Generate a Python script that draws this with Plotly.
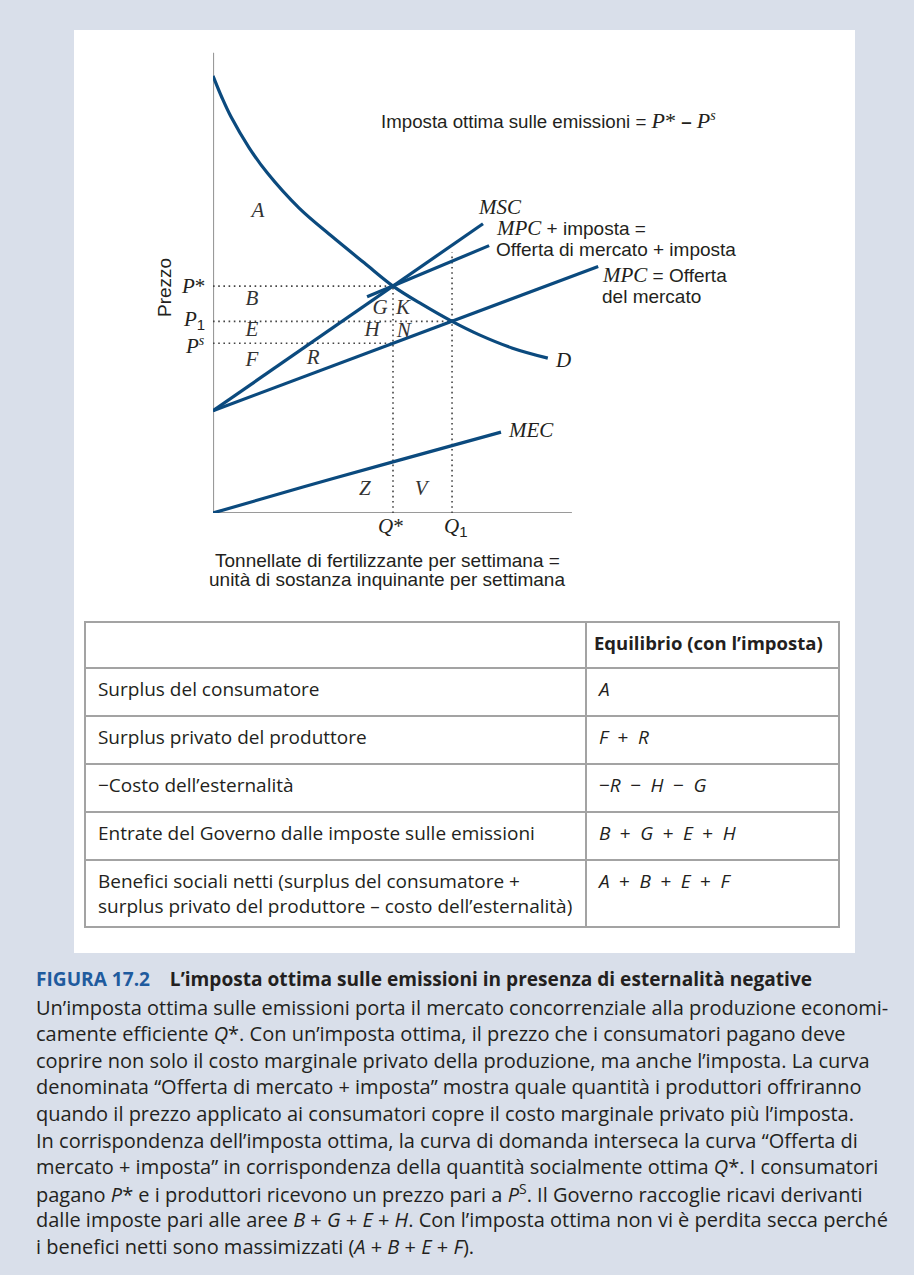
import plotly.graph_objects as go

W, H = 914, 1275

# ---------------- data (chart units) ----------------
demand_q = [0, 0.25, 0.5, 1.0, 1.5, 2.4, 3.3, 4.2, 5.0, 5.8, 6.64, 7.4, 8.3, 9.3]
demand_p = [9.4, 8.93, 8.52, 7.86, 7.32, 6.55, 5.95, 5.38, 4.88, 4.49, 4.12, 3.83, 3.55, 3.33]

mpc_q = [0, 10.7]
mpc_p = [2.2, 5.3]

msc_q = [0, 7.5]
msc_p = [2.2, 6.22]

mpc_tax_q = [4.28, 7.67]
mpc_tax_p = [4.65, 5.75]

mec_q = [0, 2.5, 5.0, 8.0]
mec_p = [0, 0.56, 1.1, 1.74]

q_star, q_one = 5.0, 6.64
p_star, p_one, p_s = 4.88, 4.12, 3.65
q_one_top = 5.6

area_labels = ["A", "B", "E", "F", "R", "G", "K", "H", "N", "Z", "V"]
area_q = [1.25, 1.08, 1.08, 1.08, 2.78, 4.64, 5.28, 4.42, 5.3, 4.22, 5.78]
area_p = [6.47, 4.58, 3.91, 3.27, 3.31, 4.39, 4.39, 3.91, 3.89, 0.49, 0.49]

table_header = ["", "<b>Equilibrio (con l’imposta)</b>"]
table_rows = [
    "Surplus del consumatore",
    "Surplus privato del produttore",
    "−Costo dell’esternalità",
    "Entrate del Governo dalle imposte sulle emissioni",
    "Benefici sociali netti (surplus del consumatore +<br>surplus privato del produttore – costo dell’esternalità)",
]
SP = "\u2002"
table_values = [
    "<i>A</i>",
    f"<i>F</i>{SP}+{SP}<i>R</i>",
    f"−<i>R</i>{SP}−{SP}<i>H</i>{SP}−{SP}<i>G</i>",
    f"<i>B</i>{SP}+{SP}<i>G</i>{SP}+{SP}<i>E</i>{SP}+{SP}<i>H</i>",
    f"<i>A</i>{SP}+{SP}<i>B</i>{SP}+{SP}<i>E</i>{SP}+{SP}<i>F</i>",
]

caption_title = ("<span style='color:#1f5b9e'>FIGURA 17.2</span>&nbsp;&nbsp;&nbsp;&nbsp;"
                 "L’imposta ottima sulle emissioni in presenza di esternalità negative")
caption_lines = [
    "Un’imposta ottima sulle emissioni porta il mercato concorrenziale alla produzione economi-",
    "camente efficiente <i>Q</i>*. Con un’imposta ottima, il prezzo che i consumatori pagano deve",
    "coprire non solo il costo marginale privato della produzione, ma anche l’imposta. La curva",
    "denominata “Offerta di mercato + imposta” mostra quale quantità i produttori offriranno",
    "quando il prezzo applicato ai consumatori copre il costo marginale privato più l’imposta.",
    "In corrispondenza dell’imposta ottima, la curva di domanda interseca la curva “Offerta di",
    "mercato + imposta” in corrispondenza della quantità socialmente ottima <i>Q</i>*. I consumatori",
    "pagano <i>P</i>* e i produttori ricevono un prezzo pari a <i>P</i><sup>S</sup>. Il Governo raccoglie ricavi derivanti",
    "dalle imposte pari alle aree <i>B</i> + <i>G</i> + <i>E</i> + <i>H</i>. Con l’imposta ottima non vi è perdita secca perché",
    "i benefici netti sono massimizzati (<i>A</i> + <i>B</i> + <i>E</i> + <i>F</i>).",
]

# ---------------- styling ----------------
BLUE = "#0b4a7e"
DOT = "#444444"
SERIF = "Liberation Serif"
SANS = "Liberation Sans"
BOOK = "Open Sans"
TXT = "#231f20"
SER_SIZE = 21
SANS_SIZE = 19


def px(x):
    return x / W


def py(y):
    return 1 - y / H


def serif_i(s, size=SER_SIZE):
    return f"<span style='font-family:{SERIF};font-size:{size}px'><i>{s}</i></span>"


def serif_star(size=SER_SIZE):
    return f"<span style='font-family:{SERIF};font-size:{size}px'>*</span>"


fig = go.Figure()

line_kw = dict(mode="lines", hoverinfo="skip", showlegend=False)

# axes drawn as lines
fig.add_trace(go.Scatter(x=[0, 0], y=[0, 9.9], line=dict(color="#9a9a9a", width=2.2), **line_kw))
fig.add_trace(go.Scatter(x=[0, 9.97], y=[0, 0], line=dict(color="#9a9a9a", width=2.2), **line_kw))

# dotted guides
dot = dict(color=DOT, width=1.6, dash="1.6px,3.6px")
fig.add_trace(go.Scatter(x=[0, q_star], y=[p_star, p_star], line=dot, **line_kw))
fig.add_trace(go.Scatter(x=[0, q_one], y=[p_one, p_one], line=dot, **line_kw))
fig.add_trace(go.Scatter(x=[0, q_star], y=[p_s, p_s], line=dot, **line_kw))
fig.add_trace(go.Scatter(x=[q_star, q_star], y=[0, p_star], line=dot, **line_kw))
fig.add_trace(go.Scatter(x=[q_one, q_one], y=[0, q_one_top], line=dot, **line_kw))

curve = dict(color=BLUE, width=3.2)
fig.add_trace(go.Scatter(x=demand_q, y=demand_p,
                         line=dict(color=BLUE, width=3.2, shape="spline", smoothing=1.0), **line_kw))
fig.add_trace(go.Scatter(x=mpc_q, y=mpc_p, line=curve, **line_kw))
fig.add_trace(go.Scatter(x=msc_q, y=msc_p, line=curve, **line_kw))
fig.add_trace(go.Scatter(x=mpc_tax_q, y=mpc_tax_p, line=curve, **line_kw))
fig.add_trace(go.Scatter(x=mec_q, y=mec_p, line=dict(color=BLUE, width=3.2, shape="spline"), **line_kw))

# area letters
fig.add_trace(go.Scatter(
    x=area_q, y=area_p, mode="text", text=[f"<i>{t}</i>" for t in area_labels],
    textfont=dict(family=SERIF, size=SER_SIZE, color="#333333"), hoverinfo="skip", showlegend=False,
    cliponaxis=False))

# table
fig.add_trace(go.Table(
    domain=dict(x=[px(85), px(839)], y=[py(934), py(622)]),
    columnwidth=[501, 253],
    header=dict(values=table_header, height=46, align="left",
                line=dict(color="#a3a3a3", width=2), fill=dict(color="white"),
                font=dict(family=BOOK, size=18.5, color=TXT)),
    cells=dict(values=[["&nbsp;" + r.replace("<br>", "<br>&nbsp;") for r in table_rows],
                       ["&nbsp;" + v for v in table_values]],
               height=48, align="left",
               line=dict(color="#a3a3a3", width=2), fill=dict(color="white"),
               font=dict(family=BOOK, size=19, color=TXT)),
))

ann = []


def add(text, x, y, size=SANS_SIZE, family=SANS, xanchor="left", xref="paper", yref="paper", **kw):
    ann.append(dict(text=text, x=x, y=y, xref=xref, yref=yref, xanchor=xanchor, yanchor="middle",
                    showarrow=False, font=dict(family=family, size=size, color=TXT), **kw))


# chart text
add("Imposta ottima sulle emissioni = " + serif_i("P", 22) + serif_star(22) + " <b>–</b> "
    + serif_i("P", 22) + "<sup>" + serif_i("s", 14) + "</sup>", px(379), py(120), size=18.7)
add("<i>MSC</i>", px(476), py(207), size=SER_SIZE, family=SERIF)
add(serif_i("MPC") + " + imposta =", px(494), py(228))
add("Offerta di mercato + imposta", px(494), py(250))
add(serif_i("MPC") + " = Offerta", px(600), py(275))
add("del mercato", px(600), py(297))
add("<i>D</i>", px(553), py(360), size=SER_SIZE, family=SERIF)
add("<i>MEC</i>", px(506), py(430), size=SER_SIZE, family=SERIF)

SUB1 = f"<sub><span style='font-family:{SANS};font-size:15px'>1</span></sub>"

# price labels
add(serif_i("P") + serif_star(), px(207), p_star, xanchor="right", yref="y")
add(serif_i("P") + SUB1, px(207), p_one + 0.03, xanchor="right", yref="y")
add(serif_i("P") + "<sup>" + serif_i("s", 14) + "</sup>", px(207), p_s - 0.04, xanchor="right", yref="y")
add("Prezzo", px(165), py(288), xanchor="center", textangle=-90)

# quantity labels
add(serif_i("Q") + serif_star(), q_star - 0.05, py(526), xanchor="center", xref="x")
add(serif_i("Q") + SUB1, q_one + 0.1, py(527), xanchor="center", xref="x")
add("Tonnellate di fertilizzante per settimana =", px(387), py(560), xanchor="center")
add("unità di sostanza inquinante per settimana", px(387), py(580), xanchor="center")

# caption
add("<b>" + caption_title + "</b>", px(34), py(979), size=19.1, family=BOOK)
for i, line in enumerate(caption_lines):
    add(line, px(34), py(1007 + 26.6 * i), size=20, family=BOOK)

fig.update_layout(
    width=W, height=H,
    margin=dict(l=0, r=0, t=0, b=0),
    paper_bgcolor="#d9dfea",
    plot_bgcolor="rgba(0,0,0,0)",
    xaxis=dict(domain=[px(213), px(213 + 12 * 36)], range=[0, 12], visible=False, fixedrange=True),
    yaxis=dict(domain=[py(513), py(48)], range=[0, 10], visible=False, fixedrange=True),
    shapes=[dict(type="rect", xref="paper", yref="paper", x0=px(74), x1=px(855), y0=py(953), y1=py(30),
                 fillcolor="white", line=dict(width=0), layer="below")],
    annotations=ann,
)

fig.write_html("out.html", config={"displayModeBar": False},
               post_script="document.body.style.margin='0';document.body.style.overflow='hidden';")
